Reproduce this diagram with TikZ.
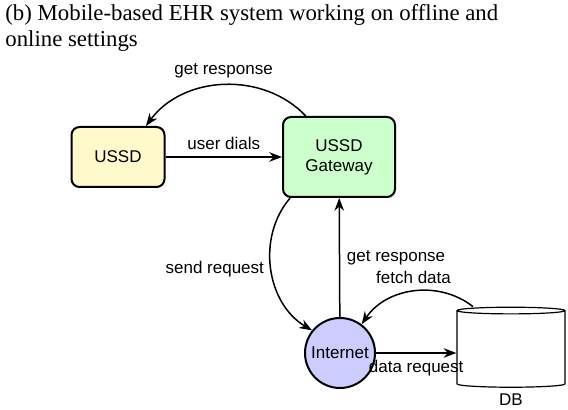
\documentclass[tikz,border=0pt]{standalone}
\usepackage{fontspec}
\setmainfont{Liberation Serif}
\setsansfont{Liberation Sans}
\usetikzlibrary{shapes.geometric, arrows.meta, positioning}
\definecolor{USSDYellow}{HTML}{FFF9CC}
\definecolor{GatewayGreen}{HTML}{CCFFCC}
\definecolor{NetBlue}{HTML}{CCCCFF}
\tikzset{
    % Box styles - rounded corners
    phone/.style={
        rectangle,
        rounded corners=4pt,
        draw=black,
        fill=USSDYellow,
        line width=1pt,
        minimum width=46.5pt,
        minimum height=30pt,
        align=center,
        font=\sffamily\fontsize{8.5}{10}\selectfont
    },
    gateway/.style={
        phone,
        fill=GatewayGreen,
        minimum width=56pt,
        minimum height=40pt
    },
    network/.style={
        circle,
        draw=black,
        fill=NetBlue,
        line width=1pt,
        minimum size=35pt,
        inner sep=0pt,
        font=\sffamily\fontsize{8.5}{10}\selectfont
    },
    store/.style={
        cylinder,
        shape border rotate=90,
        aspect=0.5,
        draw=black,
        fill=white,
        line width=0.6pt,
        minimum width=54pt,
        minimum height=40pt
    },
    lbl/.style={
        font=\sffamily\fontsize{8.5}{10}\selectfont
    },
    % Arrow style
    arrow/.style={
        ->,
        >=Stealth,
        line width=0.75pt,
        draw=black
    }
}
\begin{document}
\begin{tikzpicture}[x=0.5pt, y=-0.5pt]
    \useasboundingbox (0,0) rectangle (568,410);

    % Caption
    \node[anchor=north west, inner sep=0pt, align=left, font=\fontsize{11.4}{13}\selectfont] (caption) at (5,4)
        {(b) Mobile-based EHR system working on offline and\\online settings};

    % Nodes
    \node[phone] (ussd) at (118,157) {USSD};
    \node[gateway] (gw) at (339,157) {USSD\\Gateway};
    \node[network] (inet) at (340,353) {Internet};
    \node[store] (db) at (511,350) {};
    \node[lbl, below=-0.5pt of db] (dblabel) {DB};

    % Arrows
    \draw[arrow] (ussd) -- node[lbl, above] {user dials} (gw);
    \draw[arrow] (gw.129) to[bend right=50] node[lbl, above] {get response} (ussd.48);
    \draw[arrow] (gw.220) to[bend right=50] node[lbl, left] {send request} (inet.141);
    \draw[arrow] (inet) -- node[lbl, right] {get response} (gw);
    \draw[arrow] ([xshift=-19pt]db.north) to[bend right=47] node[lbl, above] {fetch data} (inet.53);
    \draw[arrow] (inet.east) -- node[lbl, below] {data request} (inet.east -| db.west);
\end{tikzpicture}
\end{document}
